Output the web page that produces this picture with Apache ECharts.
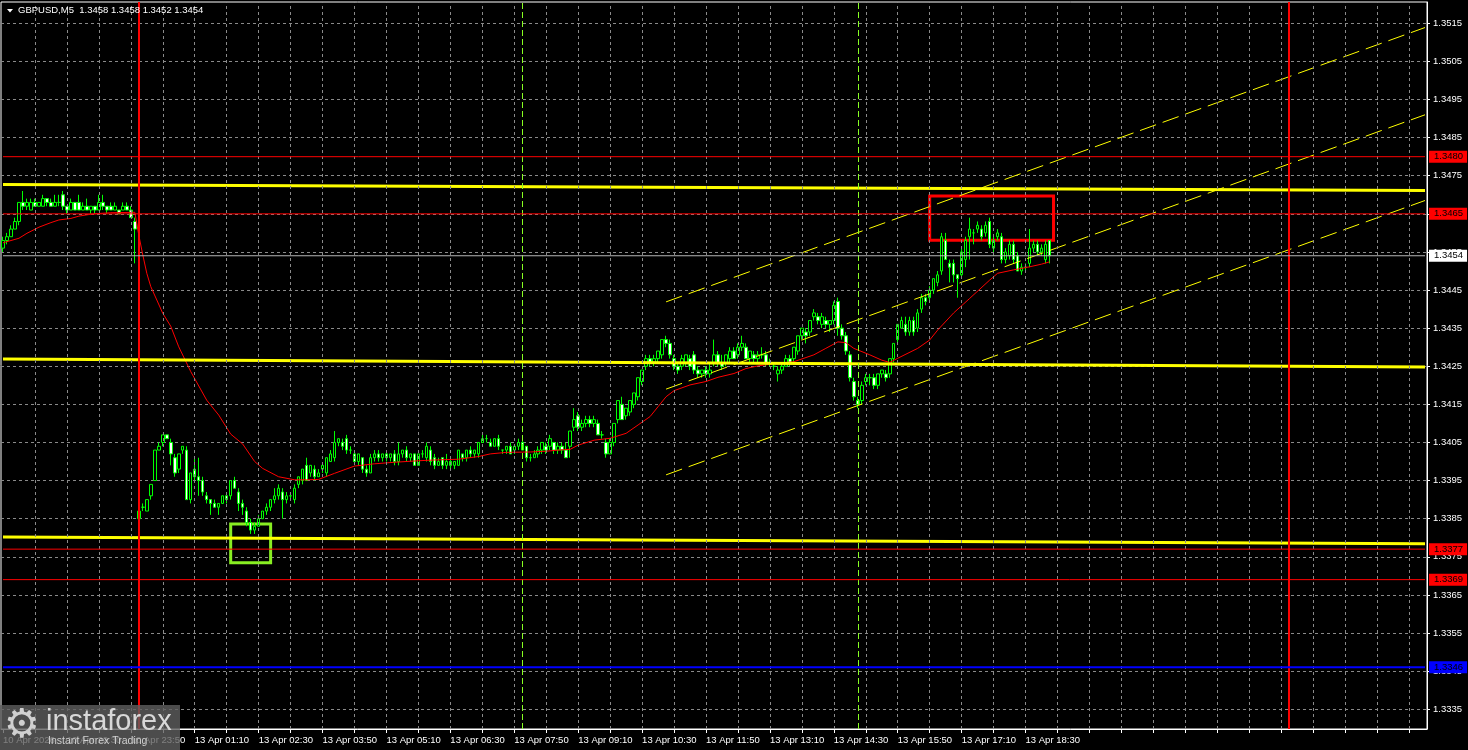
<!DOCTYPE html>
<html><head><meta charset="utf-8">
<script src="https://cdn.jsdelivr.net/npm/echarts@6/dist/echarts.min.js"></script>
<style>html,body{margin:0;padding:0;background:#000;overflow:hidden}#c{width:1468px;height:750px}</style>
</head><body><div id="c"></div>
<script>
const symbolName = 'GBPUSD,M5';
// OHLC per 5-minute bar (10 Apr 21:10 .. 13 Apr 19:00)
const opens = [
1.3456,1.3458,1.3459,1.3461,1.3463,1.3468,1.3467,1.3466,1.3468,1.3467,
1.3467,1.3469,1.3468,1.3467,1.3468,1.3470,1.3467,1.3466,1.3468,1.3468,
1.3466,1.3467,1.3466,1.3467,1.3466,1.3468,1.3467,1.3467,1.3466,1.3466,
1.3466,1.3467,1.3466,1.3463,
1.3385,1.3388,1.3387,1.3391,1.3395,1.3403,1.3405,1.3407,1.3405,1.3401,
1.3398,1.3403,1.3403,1.3390,1.3398,1.3396,1.3395,1.3391,1.3390,1.3389,
1.3388,1.3389,1.3391,1.3391,1.3395,1.3392,1.3389,1.3387,1.3384,1.3382,
1.3383,1.3385,1.3387,1.3388,1.3390,1.3391,1.3392,1.3390,1.3391,1.3390,
1.3394,1.3395,1.3399,1.3397,1.3398,1.3396,1.3398,1.3397,1.3400,1.3401,
1.3405,1.3405,1.3406,1.3403,1.3402,1.3400,1.3401,1.3398,1.3397,1.3401,
1.3402,1.3401,1.3402,1.3401,1.3402,1.3400,1.3402,1.3403,1.3401,1.3402,
1.3399,1.3402,1.3401,1.3403,
1.3401,1.3399,1.3401,1.3399,1.3400,1.3399,1.3399,1.3402,1.3401,1.3403,
1.3402,1.3402,1.3405,1.3406,1.3405,1.3404,1.3406,1.3403,1.3403,1.3404,
1.3403,1.3404,1.3405,1.3404,1.3401,1.3401,1.3402,1.3403,1.3404,1.3404,
1.3405,1.3403,1.3404,1.3403,1.3404,1.3409,1.3412,1.3409,1.3410,1.3411,
1.3410,1.3410,1.3407,1.3405,1.3402,1.3405,1.3411,1.3415,1.3412,1.3413,
1.3415,1.3417,1.3421,1.3425,1.3427,1.3426,1.3427,1.3428,1.3432,1.3431,
1.3427,1.3425,1.3425,1.3426,1.3427,1.3428,1.3424,1.3423,1.3424,1.3423,
1.3426,1.3428,1.3426,1.3426,1.3427,1.3429,1.3428,1.3430,1.3430,1.3427,
1.3428,1.3427,1.3428,1.3428,1.3426,1.3425,1.3423,1.3424,1.3425,1.3427,
1.3427,1.3429,1.3433,1.3434,1.3434,1.3438,1.3438,1.3436,1.3437,1.3436,
1.3437,1.3442,1.3435,1.3433,1.3428,1.3421,1.3416,1.3416,1.3421,1.3422,
1.3422,1.3420,1.3423,1.3423,1.3423,1.3427,1.3432,1.3435,1.3436,1.3434,
1.3437,1.3435,1.3440,1.3443,1.3443,1.3445,1.3447,1.3450,1.3458,1.3452,
1.3452,1.3449,1.3449,1.3453,1.3459,1.3460,1.3461,1.3461,1.3460,1.3463,
1.3456,1.3459,1.3459,1.3453,1.3454,1.3457,1.3454,1.3450,1.3451,1.3452,
1.3456,1.3457,1.3455,1.3453,1.3458];
const highs = [
1.3459,1.3460,1.3462,1.3464,1.3468,1.3471,1.3469,1.3469,1.3469,1.3468,
1.3470,1.3469,1.3469,1.3470,1.3470,1.3471,1.3467,1.3469,1.3468,1.3470,
1.3468,1.3469,1.3467,1.3467,1.3470,1.3470,1.3467,1.3468,1.3468,1.3466,
1.3468,1.3468,1.3467,1.3464,
1.3388,1.3389,1.3390,1.3394,1.3403,1.3405,1.3407,1.3407,1.3406,1.3402,
1.3402,1.3404,1.3404,1.3397,1.3401,1.3401,1.3396,1.3392,1.3390,1.3390,
1.3389,1.3391,1.3391,1.3395,1.3396,1.3393,1.3390,1.3388,1.3385,1.3384,
1.3386,1.3387,1.3389,1.3390,1.3393,1.3394,1.3393,1.3392,1.3392,1.3394,
1.3396,1.3398,1.3401,1.3399,1.3399,1.3398,1.3399,1.3401,1.3403,1.3408,
1.3406,1.3406,1.3407,1.3404,1.3403,1.3402,1.3401,1.3399,1.3402,1.3403,
1.3403,1.3402,1.3403,1.3402,1.3403,1.3405,1.3403,1.3404,1.3402,1.3402,
1.3402,1.3403,1.3405,1.3404,
1.3402,1.3401,1.3401,1.3402,1.3401,1.3400,1.3403,1.3402,1.3403,1.3404,
1.3403,1.3405,1.3407,1.3407,1.3406,1.3406,1.3407,1.3403,1.3404,1.3405,
1.3404,1.3406,1.3406,1.3404,1.3402,1.3403,1.3404,1.3405,1.3405,1.3407,
1.3405,1.3405,1.3405,1.3405,1.3408,1.3414,1.3413,1.3411,1.3412,1.3412,
1.3412,1.3411,1.3408,1.3406,1.3406,1.3410,1.3416,1.3417,1.3414,1.3416,
1.3418,1.3422,1.3424,1.3428,1.3428,1.3428,1.3429,1.3432,1.3433,1.3432,
1.3428,1.3426,1.3428,1.3428,1.3428,1.3429,1.3425,1.3424,1.3425,1.3426,
1.3432,1.3429,1.3428,1.3428,1.3430,1.3430,1.3431,1.3433,1.3431,1.3429,
1.3429,1.3429,1.3430,1.3429,1.3427,1.3426,1.3425,1.3426,1.3428,1.3428,
1.3430,1.3433,1.3435,1.3435,1.3437,1.3440,1.3439,1.3439,1.3438,1.3437,
1.3442,1.3443,1.3436,1.3434,1.3429,1.3422,1.3417,1.3421,1.3423,1.3423,
1.3423,1.3423,1.3424,1.3424,1.3427,1.3431,1.3436,1.3438,1.3438,1.3438,
1.3438,1.3440,1.3444,1.3444,1.3446,1.3448,1.3450,1.3460,1.3460,1.3453,
1.3453,1.3449,1.3456,1.3459,1.3464,1.3461,1.3463,1.3462,1.3463,1.3464,
1.3459,1.3461,1.3460,1.3456,1.3458,1.3458,1.3455,1.3452,1.3452,1.3461,
1.3458,1.3458,1.3457,1.3458,1.3458];
const lows = [
1.3455,1.3457,1.3459,1.3461,1.3462,1.3466,1.3466,1.3466,1.3467,1.3467,
1.3467,1.3467,1.3467,1.3467,1.3467,1.3466,1.3465,1.3466,1.3466,1.3466,
1.3466,1.3466,1.3465,1.3465,1.3466,1.3466,1.3465,1.3466,1.3466,1.3465,
1.3466,1.3466,1.3464,1.3452,
1.3384,1.3387,1.3387,1.3390,1.3395,1.3403,1.3404,1.3406,1.3399,1.3396,
1.3397,1.3402,1.3390,1.3389,1.3395,1.3391,1.3391,1.3389,1.3386,1.3388,
1.3386,1.3389,1.3389,1.3390,1.3393,1.3387,1.3386,1.3383,1.3381,1.3381,
1.3383,1.3385,1.3386,1.3387,1.3389,1.3390,1.3385,1.3389,1.3390,1.3389,
1.3393,1.3394,1.3395,1.3396,1.3395,1.3396,1.3397,1.3396,1.3400,1.3400,
1.3404,1.3403,1.3402,1.3402,1.3399,1.3399,1.3397,1.3396,1.3397,1.3400,
1.3400,1.3400,1.3400,1.3400,1.3399,1.3399,1.3401,1.3400,1.3400,1.3399,
1.3399,1.3401,1.3400,1.3399,
1.3398,1.3399,1.3398,1.3398,1.3398,1.3398,1.3399,1.3400,1.3400,1.3401,
1.3401,1.3401,1.3405,1.3405,1.3404,1.3404,1.3403,1.3402,1.3402,1.3402,
1.3402,1.3403,1.3403,1.3400,1.3400,1.3401,1.3401,1.3402,1.3402,1.3403,
1.3402,1.3402,1.3402,1.3401,1.3401,1.3408,1.3408,1.3408,1.3409,1.3409,
1.3409,1.3407,1.3406,1.3401,1.3402,1.3404,1.3410,1.3411,1.3411,1.3412,
1.3414,1.3416,1.3420,1.3424,1.3425,1.3425,1.3426,1.3427,1.3430,1.3427,
1.3424,1.3423,1.3424,1.3425,1.3424,1.3423,1.3422,1.3422,1.3422,1.3422,
1.3425,1.3425,1.3424,1.3425,1.3426,1.3427,1.3427,1.3429,1.3427,1.3426,
1.3426,1.3426,1.3427,1.3425,1.3425,1.3424,1.3421,1.3423,1.3425,1.3425,
1.3426,1.3428,1.3432,1.3431,1.3433,1.3437,1.3436,1.3435,1.3435,1.3434,
1.3436,1.3433,1.3432,1.3428,1.3421,1.3416,1.3414,1.3415,1.3420,1.3420,
1.3419,1.3419,1.3422,1.3421,1.3422,1.3426,1.3431,1.3435,1.3433,1.3433,
1.3433,1.3434,1.3439,1.3441,1.3442,1.3444,1.3446,1.3449,1.3453,1.3447,
1.3447,1.3443,1.3448,1.3451,1.3453,1.3457,1.3460,1.3458,1.3459,1.3456,
1.3454,1.3458,1.3452,1.3452,1.3453,1.3452,1.3450,1.3449,1.3450,1.3451,
1.3455,1.3454,1.3454,1.3452,1.3452];
const closes = [
1.3458,1.3459,1.3461,1.3463,1.3468,1.3467,1.3468,1.3468,1.3467,1.3468,
1.3469,1.3468,1.3467,1.3468,1.3468,1.3467,1.3466,1.3468,1.3466,1.3466,
1.3467,1.3466,1.3467,1.3466,1.3468,1.3467,1.3466,1.3466,1.3467,1.3465,
1.3467,1.3466,1.3464,1.3461,
1.3387,1.3388,1.3390,1.3394,1.3403,1.3404,1.3407,1.3406,1.3402,1.3397,
1.3402,1.3404,1.3390,1.3397,1.3396,1.3395,1.3392,1.3390,1.3389,1.3388,
1.3389,1.3391,1.3390,1.3395,1.3393,1.3389,1.3388,1.3384,1.3382,1.3383,
1.3385,1.3387,1.3388,1.3390,1.3391,1.3393,1.3390,1.3391,1.3391,1.3393,
1.3396,1.3398,1.3395,1.3399,1.3396,1.3397,1.3399,1.3401,1.3402,1.3405,
1.3406,1.3404,1.3403,1.3403,1.3400,1.3402,1.3398,1.3397,1.3401,1.3402,
1.3401,1.3402,1.3401,1.3402,1.3400,1.3402,1.3403,1.3401,1.3402,1.3399,
1.3402,1.3402,1.3404,1.3400,
1.3399,1.3400,1.3399,1.3400,1.3399,1.3400,1.3403,1.3401,1.3403,1.3402,
1.3403,1.3405,1.3406,1.3406,1.3404,1.3406,1.3404,1.3403,1.3404,1.3402,
1.3404,1.3405,1.3403,1.3401,1.3401,1.3402,1.3403,1.3405,1.3403,1.3406,
1.3403,1.3404,1.3403,1.3401,1.3408,1.3411,1.3409,1.3410,1.3411,1.3410,
1.3411,1.3407,1.3407,1.3402,1.3405,1.3410,1.3416,1.3411,1.3414,1.3416,
1.3418,1.3422,1.3424,1.3427,1.3426,1.3427,1.3429,1.3432,1.3431,1.3428,
1.3425,1.3424,1.3427,1.3428,1.3425,1.3424,1.3423,1.3424,1.3423,1.3424,
1.3428,1.3426,1.3425,1.3428,1.3429,1.3427,1.3430,1.3431,1.3427,1.3429,
1.3427,1.3428,1.3428,1.3426,1.3426,1.3425,1.3424,1.3425,1.3427,1.3426,
1.3430,1.3433,1.3435,1.3433,1.3437,1.3439,1.3437,1.3438,1.3436,1.3437,
1.3441,1.3435,1.3433,1.3429,1.3422,1.3417,1.3415,1.3420,1.3422,1.3422,
1.3420,1.3423,1.3424,1.3422,1.3427,1.3431,1.3436,1.3437,1.3434,1.3437,
1.3434,1.3439,1.3443,1.3442,1.3445,1.3448,1.3449,1.3459,1.3453,1.3451,
1.3449,1.3448,1.3455,1.3458,1.3461,1.3460,1.3462,1.3459,1.3462,1.3457,
1.3458,1.3460,1.3453,1.3455,1.3457,1.3453,1.3450,1.3451,1.3451,1.3456,
1.3457,1.3455,1.3456,1.3457,1.3454];
// moving average: [bar index, value]
const maPoints = [[0,1.34574],[4,1.34586],[6,1.34599],[9,1.34615],[12,1.34627],[14,1.34634],[17,1.34638],[19,1.34644],[22,1.34649],[24,1.34651],[27,1.34653],[33,1.34654],[34,1.34594],[35,1.34542],[36,1.34494],[37,1.34459],[40,1.34389],[42,1.34355],[44,1.34301],[47,1.34236],[51,1.34161],[54,1.34122],[57,1.34072],[60,1.34046],[63,1.34000],[65,1.33982],[69,1.33960],[73,1.33952],[76,1.33952],[79,1.33953],[83,1.33969],[88,1.33988],[93,1.33994],[98,1.33998],[104,1.34002],[108,1.34004],[114,1.34006],[119,1.34013],[122,1.34020],[126,1.34024],[132,1.34025],[136,1.34027],[139,1.34030],[142,1.34032],[144,1.34043],[148,1.34056],[152,1.34061],[156,1.34074],[159,1.34096],[162,1.34118],[164,1.34144],[166,1.34170],[168,1.34186],[172,1.34201],[176,1.34210],[179,1.34221],[183,1.34231],[186,1.34244],[189,1.34251],[194,1.34258],[198,1.34262],[203,1.34280],[206,1.34297],[209,1.34314],[211,1.34312],[213,1.34297],[217,1.34280],[220,1.34266],[222,1.34260],[224,1.34271],[229,1.34297],[232,1.34319],[234,1.34345],[238,1.34390],[242,1.34428],[247,1.34476],[249,1.34494],[253,1.34503],[257,1.34511],[260,1.34518],[262,1.34524]];
const priceTicks = [1.3335,1.3345,1.3355,1.3365,1.3375,1.3385,1.3395,1.3405,1.3415,1.3425,1.3435,1.3445,1.3455,1.3465,1.3475,1.3485,1.3495,1.3505,1.3515];
const timeLabels = ['10 Apr 2026','10 Apr 22:30','10 Apr 23:50','13 Apr 01:10','13 Apr 02:30','13 Apr 03:50','13 Apr 05:10','13 Apr 06:30','13 Apr 07:50','13 Apr 09:10','13 Apr 10:30','13 Apr 11:50','13 Apr 13:10','13 Apr 14:30','13 Apr 15:50','13 Apr 17:10','13 Apr 18:30'];
const redLevels = [1.3480, 1.3465, 1.3377, 1.3369];
const bidLevel = 1.3454;
const blueLevel = 1.3346;
const yellowLevels = [[1.34727, 1.34711], [1.34269, 1.34248], [1.33802, 1.33784]]; // left, right
const channelBars = [166, 356];
const channelLines = [[1.34419, 1.35139], [1.34190, 1.34910], [1.33965, 1.34685]];
const dayStartBars = [34, 322];
const newsBars = [130, 214];
const redBox = [232, 263, 1.34697, 1.34581];
const greenBox = [57, 67, 1.33836, 1.33734];
const totalSlots = 357;
const gridEvery = 8;

// time categories
const MON = ['Jan','Feb','Mar','Apr','May','Jun','Jul','Aug','Sep','Oct','Nov','Dec'];
const fri = Date.UTC(2026,3,10,21,10), mon = Date.UTC(2026,3,13,0,0);
const pad = n => (n < 10 ? '0' : '') + n;
const categories = [];
for (let i = 0; i < totalSlots; i++) {
  const d = new Date(i < 34 ? fri + i * 300000 : mon + (i - 34) * 300000);
  categories.push(d.getUTCDate() + ' ' + MON[d.getUTCMonth()] + ' ' + pad(d.getUTCHours()) + ':' + pad(d.getUTCMinutes()));
}
const candles = opens.map((o, i) => [o, closes[i], lows[i], highs[i]]);
const lastBar = opens.length - 1;
const header = symbolName + '  ' + [opens[lastBar], highs[lastBar], lows[lastBar], closes[lastBar]].map(v => v.toFixed(4)).join(' ');

const FONT = 'Liberation Sans';
const lastLabelIdx = (timeLabels.length - 1) * 16;
const GRID_STYLE = { color: '#8a8a8a', width: 1, type: [3, 3] };

// vertical grid lines + event lines
const vMarks = [];
for (let b = gridEvery; b < totalSlots; b += gridEvery) vMarks.push({ xAxis: b, lineStyle: GRID_STYLE, label: { show: false } });
const vEvents = [];
dayStartBars.forEach(b => vEvents.push({ xAxis: b, lineStyle: { color: '#ff0000', width: 2, type: 'solid' }, label: { show: false } }));
newsBars.forEach(b => vEvents.push({ xAxis: b, lineStyle: { color: '#88ff22', width: 1, type: [6, 3] }, label: { show: false } }));

const levelSeries = (v, color, width, boxColor, z) => ({
  type: 'line', data: [[0, v], [totalSlots - 1, v]], symbol: 'none', z: z, silent: true,
  lineStyle: { color: color, width: width },
  endLabel: { show: true, distance: 4, formatter: v.toFixed(4), backgroundColor: boxColor, color: '#000',
              padding: [1, 4, 1, 5], fontSize: 9.5, fontFamily: FONT }
});

const series = [
  { type: 'line', data: [], symbol: 'none', z: 1, silent: true,
    markLine: { silent: true, symbol: ['none', 'none'], animation: false, data: vMarks } },
  {
    type: 'candlestick', data: candles, barWidth: 3, z: 2,
    itemStyle: { color: '#000000', color0: '#ffffff', borderColor: '#00ff00', borderColor0: '#00ff00', borderColorDoji: '#00ff00', borderWidth: 1 },
    markArea: { silent: true, animation: false, data: [
      [{ xAxis: redBox[0], yAxis: redBox[2], itemStyle: { color: 'rgba(0,0,0,0)', borderColor: '#ff0000', borderWidth: 3 } }, { xAxis: redBox[1], yAxis: redBox[3] }],
      [{ xAxis: greenBox[0], yAxis: greenBox[2], itemStyle: { color: 'rgba(0,0,0,0)', borderColor: '#88ee22', borderWidth: 3 } }, { xAxis: greenBox[1], yAxis: greenBox[3] }]
    ] }
  },
  { type: 'line', data: maPoints, symbol: 'none', z: 3, lineStyle: { color: '#ff0000', width: 1 }, silent: true,
    markLine: { silent: true, symbol: ['none', 'none'], animation: false, data: vEvents } }
];
redLevels.forEach(v => series.push(levelSeries(v, '#ff0000', 1, '#ff0000', 5)));
series.push(levelSeries(bidLevel, '#b4b4b4', 1, '#ffffff', 5));
series.push(levelSeries(blueLevel, '#0000ff', 2, '#0000ff', 5));
yellowLevels.forEach(l => series.push({ type: 'line', data: [[0, l[0]], [totalSlots - 1, l[1]]], symbol: 'none', z: 4, silent: true, lineStyle: { color: '#ffff00', width: 3 } }));
channelLines.forEach(l => series.push({ type: 'line', data: [[channelBars[0], l[0]], [channelBars[1], l[1]]], symbol: 'none', z: 4, silent: true, lineStyle: { color: '#ffff00', width: 1, type: [17, 7] } }));

const chart = echarts.init(document.getElementById('c'), null, { renderer: 'canvas' });
chart.setOption({
  animation: false,
  backgroundColor: '#000',
  textStyle: { fontFamily: FONT },
  grid: { left: 1, right: 41, top: 2, bottom: 21, show: true, borderColor: '#ffffff', borderWidth: 1, backgroundColor: '#000' },
  xAxis: {
    type: 'category', data: categories, boundaryGap: true,
    axisLine: { show: true, lineStyle: { color: '#fff' } },
    axisTick: { show: true, alignWithLabel: true, length: 4, lineStyle: { color: '#fff' }, interval: gridEvery - 1 },
    axisLabel: { show: true, interval: 15, formatter: (v, i) => (i <= lastLabelIdx ? (timeLabels[Math.round(i / 16)] || '') : ''),
      color: '#fff', fontSize: 9.5, fontFamily: FONT, align: 'left', margin: 6 },
    splitLine: { show: false }
  },
  yAxis: {
    type: 'value', position: 'right', min: 1.33298, max: 1.35206,
    axisLine: { show: true, lineStyle: { color: '#fff' } },
    axisTick: { show: true, length: 3, lineStyle: { color: '#fff' }, customValues: priceTicks },
    axisLabel: { show: true, customValues: priceTicks, formatter: v => v.toFixed(4), color: '#fff', fontSize: 9.5, fontFamily: FONT, margin: 6 },
    splitLine: { show: true, lineStyle: GRID_STYLE }
  },
  series: series,
  graphic: [
    { type: 'polygon', z: 100, shape: { points: [[7, 9], [13, 9], [10, 12.5]] }, style: { fill: '#ffffff' } },
    { type: 'text', z: 100, x: 18, y: 10.5, style: { text: header, fill: '#ffffff', font: '9.5px "Liberation Sans"', textVerticalAlign: 'middle' } },
    { type: 'rect', z: 100, shape: { x: 0, y: 705, width: 180, height: 45 }, style: { fill: 'rgba(95,95,95,0.8)' } },
    { type: 'text', z: 101, x: 4, y: 727, style: { text: '\u2699', fill: '#d0d0d0', font: '40px "DejaVu Sans"', textVerticalAlign: 'middle' } },
    { type: 'text', z: 101, x: 46, y: 722, style: { text: 'instaforex', fill: '#d8d8d8', font: '29px "Liberation Sans"', textVerticalAlign: 'middle' } },
    { type: 'text', z: 101, x: 48, y: 741, style: { text: 'Instant Forex Trading', fill: '#d0d0d0', font: '10.5px "Liberation Sans"', textVerticalAlign: 'middle' } }
  ]
});
</script></body></html>
